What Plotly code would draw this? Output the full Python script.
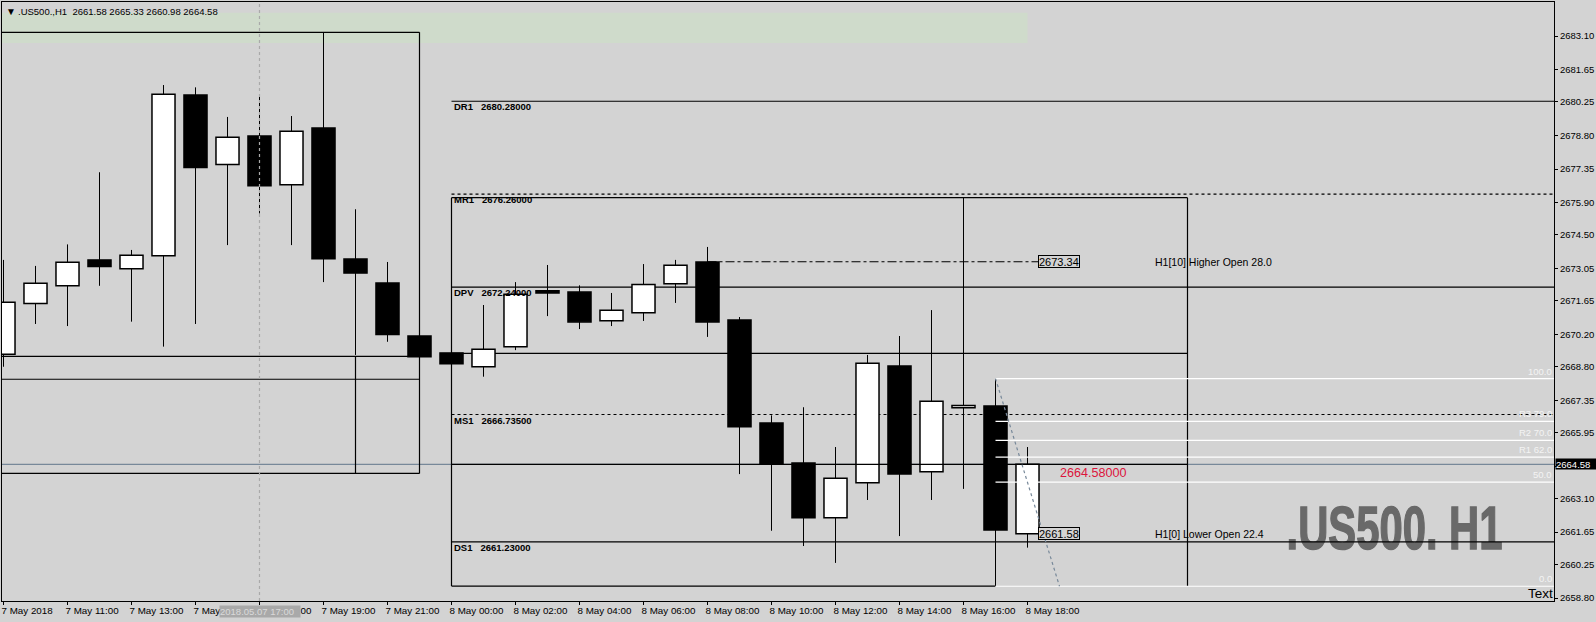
import plotly.graph_objects as go

# ---- candle data ----
bars = list(range(33))
opens = [2669.34,2671.54,2672.30,2673.42,2673.04,2673.60,2680.55,2677.54,2678.78,2676.67,2679.12,
         2673.46,2672.42,2670.13,2669.40,2668.80,2669.67,2672.09,2672.03,2670.79,2671.14,2672.39,
         2673.33,2670.82,2666.37,2664.64,2662.27,2663.79,2668.83,2664.26,2667.03,2667.10,2661.58]
closes = [2671.59,2672.41,2673.32,2673.13,2673.62,2680.58,2677.41,2678.72,2676.63,2678.98,2673.47,
          2672.85,2670.19,2669.23,2668.93,2669.56,2671.93,2671.99,2670.74,2671.24,2672.36,2673.19,
          2670.74,2666.21,2664.58,2662.27,2663.98,2668.95,2664.16,2667.31,2667.13,2661.74,2664.58]
highs = [2673.42,2673.16,2674.09,2677.21,2673.85,2680.98,2680.88,2679.60,2680.51,2679.64,2683.26,
         2675.61,2673.33,2670.13,2669.40,2671.47,2672.46,2673.20,2672.32,2671.99,2673.24,2673.42,
         2673.98,2670.95,2666.70,2667.05,2665.33,2669.31,2670.13,2671.25,2676.11,2668.26,2665.33]
lows = [2668.80,2670.65,2670.56,2672.30,2670.75,2669.67,2670.65,2674.06,2675.43,2674.06,2672.46,
        2669.31,2669.88,2669.23,2668.93,2668.37,2669.52,2670.99,2670.43,2670.56,2670.78,2671.56,
        2670.09,2664.16,2661.71,2661.05,2660.32,2663.04,2661.48,2663.04,2663.52,2659.32,2660.98]

x_tick_bars = list(range(0, 33, 2))
x_tick_text = ["7 May 2018","7 May 11:00","7 May 13:00","7 May 15:00","7 May 17:00","7 May 19:00",
               "7 May 21:00","8 May 00:00","8 May 02:00","8 May 04:00","8 May 06:00","8 May 08:00",
               "8 May 10:00","8 May 12:00","8 May 14:00","8 May 16:00","8 May 18:00"]
y_ticks = [2683.10,2681.65,2680.25,2678.80,2677.35,2675.90,2674.50,2673.05,2671.65,2670.20,
           2668.80,2667.35,2665.95,2664.50,2663.10,2661.65,2660.25,2658.80]
y_tick_text = ["2683.10","2681.65","2680.25","2678.80","2677.35","2675.90","2674.50","2673.05","2671.65",
               "2670.20","2668.80","2667.35","2665.95","","2663.10","2661.65","2660.25","2658.80"]

# ---- levels ----
pivot_names = ["DR1","MR1","DPV","MS1","DS1"]
pivot_values = [2680.28,2676.26,2672.24,2666.735,2661.23]
fib_names = ["100.0","R3 79.0","R2 70.0","R1 62.0","50.0","0.0"]
fib_values = [2668.29,2666.44,2665.62,2664.89,2663.81,2659.31]
last_price = 2664.58
box_a_top, box_a_bottom = 2683.26, 2664.19
box_a_inner = [2669.25,2668.26]
box_b_top, box_b_bottom, box_b_mid = 2676.11, 2659.32, 2669.38
higher_open, lower_open = 2673.34, 2661.58
band_top, band_bottom = 2684.11, 2682.80

BG = "#D3D3D3"
X0 = (2 - 3.5) / 32
X1 = (1554 - 3.5) / 32
Y1 = 2683.10 + 34 / 23.13
Y0 = 2683.10 - 565 / 23.13
FONT = "Liberation Sans"

fig = go.Figure()

# watermark (below the lines drawn above traces)
fig.add_trace(go.Scatter(
    x=[43.47], y=[2661.60], mode="text", text=[".US500. H1"], textposition="middle center",
    textfont=dict(family=FONT, size=61, color="#696969", weight="bold"),
    hoverinfo="skip", showlegend=False, cliponaxis=False))

# bodies
tops = [max(o, c) for o, c in zip(opens, closes)]
bots = [min(o, c) for o, c in zip(opens, closes)]
fig.add_trace(go.Bar(
    x=bars, y=[t - b for t, b in zip(tops, bots)], base=bots, width=0.72,
    marker=dict(color=["#FFFFFF" if c > o else "#000000" for o, c in zip(opens, closes)],
                line=dict(color="#000000", width=1.5)),
    hoverinfo="skip", showlegend=False))

# wicks
wx, wy = [], []
for i, h, l, t, b in zip(bars, highs, lows, tops, bots):
    wx += [i, i, None, i, i, None]
    wy += [h, t, None, b, l, None]
fig.add_trace(go.Scatter(x=wx, y=wy, mode="lines", line=dict(color="#000000", width=1),
                         hoverinfo="skip", showlegend=False))

shapes = []
def line(x0, y0, x1, y1, color="#000000", width=1.2, dash="solid", layer="below"):
    shapes.append(dict(type="line", xref="x", yref="y", x0=x0, y0=y0, x1=x1, y1=y1,
                       line=dict(color=color, width=width, dash=dash), layer=layer))

shapes.append(dict(type="rect", xref="x", yref="y", x0=X0, x1=32, y0=band_bottom, y1=band_top,
                   fillcolor="#CFDBCB", line=dict(width=0), layer="below"))
line(X0, last_price, X1, last_price, color="#778899")

# left box
line(X0, box_a_top, 13, box_a_top)
line(13, box_a_top, 13, box_a_bottom)
line(X0, box_a_bottom, 13, box_a_bottom)
for v in box_a_inner:
    line(X0, v, 13, v)
line(11, box_a_inner[0], 11, box_a_bottom)

# right box
line(14, box_b_top, 37, box_b_top)
line(14, box_b_top, 14, box_b_bottom)
line(37, box_b_top, 37, box_b_bottom)
line(14, box_b_bottom, 31, box_b_bottom)
line(14, box_b_mid, 37, box_b_mid)
line(14, last_price, 37, last_price, layer="above")

# pivots
line(14, pivot_values[0], X1, pivot_values[0])
line(14, pivot_values[1], X1, pivot_values[1], dash="3px,3px")
line(14, pivot_values[2], X1, pivot_values[2])
line(14, pivot_values[3], X1, pivot_values[3], dash="3px,3px")
line(14, pivot_values[4], X1, pivot_values[4], layer="above")

# higher open
line(22, higher_open, 33, higher_open, dash="dashdot", layer="below")

# fib
for v in fib_values:
    line(31, v, X1, v, color="#FFFFFF", layer="above")
line(31, fib_values[0], 33, fib_values[-1], color="#778899", dash="dot", layer="above")

# crosshair
line(8, Y0, 8, Y1, color="#A9A9A9", dash="3px,3px", layer="above")

ann = []
def text(x, y, s, size=9.5, color="#000000", xanchor="left", yanchor="middle", xref="x", yref="y",
         family=FONT, bold=False, **kw):
    ann.append(dict(x=x, y=y, text=f"<b>{s}</b>" if bold else s, xref=xref, yref=yref, showarrow=False,
                    xanchor=xanchor, yanchor=yanchor, align="left",
                    font=dict(size=size, color=color, family=family), **kw))

for n, v in zip(pivot_names, pivot_values):
    text(14, v, f"{n}   {v:.5f}", bold=True, yanchor="top", xshift=0, yshift=2)
for n, v in zip(fib_names, fib_values):
    text(1, v, n, size=9.5, color="#F4F4F4", xanchor="right", yanchor="bottom", xref="paper", xshift=0, yshift=0)

text(33, last_price - 0.33, "2664.58000", size=12.6, color="#DC143C", xshift=-2, yshift=-1)
for v in (higher_open, lower_open):
    text(33, v, f"{v:.2f}", size=11, xanchor="center", bordercolor="#000000", borderwidth=1, borderpad=0,
         bgcolor=BG, width=40, height=11, xshift=-1)
text(36, higher_open, "H1[10] Higher Open 28.0", size=10.5, xshift=-3)
text(36, lower_open, "H1[0] Lower Open 22.4", size=10.5, xshift=-3)
text(1, 0, "Text", size=13.5, xanchor="right", yanchor="bottom", xref="paper", yref="paper", xshift=1, yshift=-2)

# header
text(0, 1, ".US500.,H1  2661.58 2665.33 2660.98 2664.58", xref="paper", yref="paper", yanchor="top",
     xshift=14, yshift=-2)
text(0, 1, "▼", size=10, xref="paper", yref="paper", yanchor="top", xshift=2, yshift=-2)

# last price tag
text(1, last_price, "2664.58", color="#FFFFFF", xref="paper", xshift=1, bgcolor="#000000",
     width=41, height=10, borderpad=0)
# crosshair time tag
text(8, 0, "2018.05.07 17:00", color="#DADADA", xanchor="center", yanchor="top", yref="paper", yshift=-4,
     bgcolor="#A9A9A9", width=80, height=11, borderpad=0)

fig.update_layout(
    width=1596, height=622, margin=dict(l=2, r=42, t=2, b=21, pad=0),
    paper_bgcolor=BG, plot_bgcolor=BG, showlegend=False, barmode="overlay",
    font=dict(family=FONT, size=9.5, color="#000000"),
    shapes=shapes, annotations=ann,
    xaxis=dict(range=[X0, X1], tickmode="array", tickvals=x_tick_bars, ticktext=x_tick_text,
               showgrid=False, zeroline=False, showline=True, linecolor="#000000", linewidth=1, mirror=True,
               ticks="outside", ticklen=3, tickcolor="#000000", tickwidth=1, automargin=False,
               tickangle=0, ticklabelposition="outside right", ticklabelshift=-3,
               tickfont=dict(size=9.8, family=FONT)),
    yaxis=dict(range=[Y0, Y1], side="right", tickmode="array", tickvals=y_ticks,
               ticktext=y_tick_text,
               showgrid=False, zeroline=False, showline=True, linecolor="#000000", linewidth=1, mirror=True,
               ticks="outside", ticklen=3, tickcolor="#000000", tickwidth=1, automargin=False,
               tickfont=dict(size=9.5, family=FONT)),
)
post = """
document.body.style.margin='0';
document.body.style.background='#D3D3D3';
document.body.style.overflow='hidden';
var wm=[...document.querySelectorAll('text')].find(function(e){return e.textContent==='.US500. H1';});
if(wm){var b=wm.getBBox();var cx=b.x+b.width/2,cy=b.y+b.height/2;
wm.style.stroke='#696969';wm.style.strokeWidth='1.5px';
wm.setAttribute('transform',(wm.getAttribute('transform')||'')+' translate('+cx+','+cy+') scale(0.685,1) translate('+(-cx)+','+(-cy)+')');}
"""
fig.write_html("out.html", post_script=post, config={"displayModeBar": False})
